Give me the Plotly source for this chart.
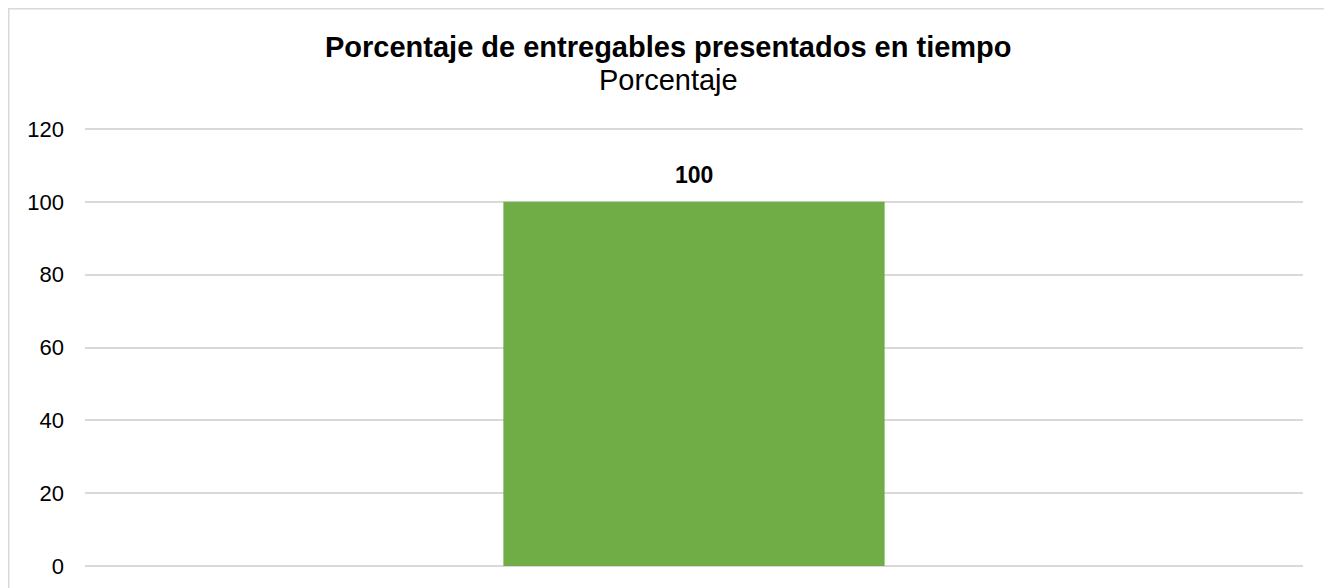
import plotly.graph_objects as go

categories = ["Porcentaje"]
values = [100]
y_ticks = [0, 20, 40, 60, 80, 100, 120]
title_text = "Porcentaje de entregables presentados en tiempo"
subtitle_text = "Porcentaje"

OFF = 8  # default page body margin
W, H = 1332 - OFF, 588 - OFF
# plot area in page pixels: left 85, right 1303, top 126, bottom 566
L, R, T = 85 - OFF, W - (1303 - OFF), 126 - OFF
B = H - (566 - OFF)
pw, ph = W - L - R, H - T - B
Y_MAX = 120 * (566 - 126) / (566 - 129)

def px_x(x):
    return (x - OFF - L) / pw

def px_y(y):
    return (H - B - (y - OFF)) / ph

FONT = "Liberation Sans, Arial, sans-serif"

fig = go.Figure()
fig.add_trace(go.Bar(
    x=categories, y=values,
    marker=dict(color="#70AD47", line=dict(width=0)),
    width=0.313,
    hoverinfo="skip",
))

for c, v in zip(categories, values):
    fig.add_annotation(
        x=c, y=v, xref="x", yref="y",
        text=f"<b>{v}</b>", showarrow=False,
        yanchor="bottom", yshift=12,
        font=dict(family=FONT, size=23, color="#000000"),
    )

fig.add_annotation(
    x=px_x(668.5), y=px_y(47), xref="paper", yref="paper",
    text=f"<b>{title_text}</b>", showarrow=False,
    xanchor="center", yanchor="middle",
    font=dict(family=FONT, size=29, color="#000000"),
)
fig.add_annotation(
    x=px_x(668.5), y=px_y(80), xref="paper", yref="paper",
    text=subtitle_text, showarrow=False,
    xanchor="center", yanchor="middle",
    font=dict(family=FONT, size=29, color="#000000"),
)

fig.add_shape(
    type="rect", xref="paper", yref="paper",
    x0=px_x(OFF + 0.5), x1=px_x(1331), y0=px_y(640), y1=px_y(OFF + 0.5),
    line=dict(color="#D9D9D9", width=2), fillcolor="rgba(0,0,0,0)",
    layer="below",
)

fig.update_layout(
    width=W, height=H,
    margin=dict(l=L, r=R, t=T, b=B, autoexpand=False),
    paper_bgcolor="#FFFFFF", plot_bgcolor="#FFFFFF",
    showlegend=False,
    font=dict(family=FONT, color="#000000"),
    xaxis=dict(showticklabels=False, showgrid=False, zeroline=False, showline=False,
               ticks="", fixedrange=True),
    yaxis=dict(range=[0, Y_MAX], tickvals=y_ticks, ticktext=[str(t) for t in y_ticks],
               showgrid=True, gridcolor="#D9D9D9", gridwidth=1.5,
               zeroline=True, zerolinecolor="#D9D9D9", zerolinewidth=1.5,
               showline=False, ticks="", ticklabelstandoff=20,
               tickfont=dict(family=FONT, size=22, color="#000000"), fixedrange=True),
)

fig.write_html("out.html", config={"displayModeBar": False})
